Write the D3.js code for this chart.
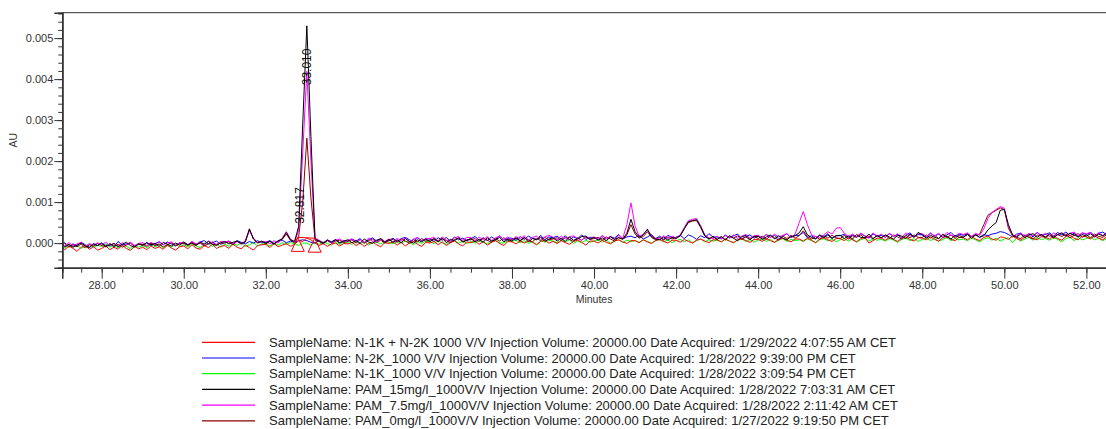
<!DOCTYPE html>
<html>
<head>
<meta charset="utf-8">
<script src="https://cdn.jsdelivr.net/npm/d3@7"></script>
<style>
  body { margin: 0; background: #fff; }
  svg { display: block; font-family: Arial, "Liberation Sans", sans-serif; }
</style>
</head>
<body>
<svg id="chart" width="1106" height="429"></svg>
<script>
// Chromatogram traces, sampled every 0.1 min starting at 27.0 min.
// Values are in units of 1e-5 AU.
const startMinute = 27.0;
const stepMinute = 0.1;

const traceRed = [
  -8,-16,-7,-13,-20,-10,-6,-15,-9,-17,
  -13,-7,-16,-10,-15,-5,-13,-18,-8,-14,
  -10,-16,-7,-13,-9,-15,-5,-12,-17,-9,
  -7,-14,-4,-12,-15,-6,-11,-3,-13,-8,
  -6,-13,-3,-10,-14,-5,-11,-17,-6,-4,
  -3,-11,-1,-9,-5,-1,-8,-3,6,4,
  12,8,0,-6,-1,-8,-2,0,-7,-1,
  -2,2,-6,0,-8,-1,3,-4,-9,1,
  -1,3,-5,2,-7,0,4,-3,-8,2,
  0,4,-4,3,-6,1,5,-2,-7,3,
  1,5,-3,4,-5,2,6,-1,-6,4,
  3,-2,5,0,6,2,-4,4,7,0,
  4,-1,6,1,-3,4,7,2,-5,5,
  5,0,7,2,-2,5,8,3,-1,6,
  6,1,8,3,-1,6,9,4,0,7,
  7,2,9,4,0,7,10,5,1,8,
  8,3,10,5,1,8,11,6,2,9,
  9,4,11,6,2,9,12,7,3,10,
  10,5,12,7,1,10,13,8,4,11,
  11,6,13,8,3,11,14,0,6,12,
  12,7,14,9,4,12,15,9,5,13,
  12,8,15,9,5,13,16,9,6,14,
  13,8,16,10,6,14,17,10,7,15,
  14,9,17,11,7,15,18,11,8,16,
  14,10,18,11,7,16,19,12,8,17,
  15,10,18,12,8,16
];

const traceBlue = [
  -3,1,-8,-2,-6,2,-4,-10,-1,-6,
  0,-7,-2,-9,4,-5,-2,1,-7,-1,
  -4,1,-6,-1,3,-4,3,-2,-6,0,
  0,-4,3,-3,3,6,-2,1,5,-3,
  1,5,-2,6,2,-2,4,0,6,1,
  2,6,-1,4,7,1,5,2,6,8,
  6,2,0,6,-1,8,3,9,1,6,
  4,10,5,11,1,8,13,5,10,3,
  7,12,4,11,14,8,4,13,6,10,
  10,4,13,7,14,5,15,8,12,6,
  11,16,7,13,6,15,9,18,7,12,
  12,7,16,9,17,12,9,19,8,15,
  13,17,9,18,8,15,11,20,9,14,
  14,9,18,11,16,12,21,10,15,17,
  13,19,10,15,21,11,17,9,19,14,
  14,19,11,20,16,9,18,13,23,15,
  15,10,20,13,18,22,10,16,20,12,
  17,12,21,14,19,10,17,23,13,19,
  19,26,13,18,11,20,15,23,12,18,
  18,22,13,20,15,23,17,12,22,18,
  19,14,23,16,21,12,19,25,15,21,
  20,15,24,17,22,13,20,26,16,22,
  19,23,16,21,14,21,18,22,24,28,
  26,21,15,22,24,17,23,15,26,19,
  21,25,17,26,20,27,18,24,16,25,
  21,26,18,24,27,20
];

const traceGreen = [
  -5,-12,-3,-10,-6,-13,-8,-3,-10,-5,
  -8,-2,-10,-5,-12,-3,-8,-14,-5,-10,
  -6,-11,-3,-9,-2,-12,-6,-10,-3,-9,
  -4,-9,-2,-7,-11,-4,-1,-8,-3,-10,
  -3,-8,-1,-6,0,-8,-4,1,-7,-2,
  -2,-7,0,-5,1,-4,2,-2,-6,0,
  0,-5,2,-3,3,-1,-5,2,-3,3,
  1,-3,3,-2,4,-5,1,3,-2,4,
  2,-2,4,0,5,1,-4,4,-1,5,
  3,-1,5,1,-3,3,6,0,5,-1,
  4,0,6,2,-2,4,7,1,0,6,
  4,7,1,6,-1,4,-4,6,2,7,
  5,1,7,3,8,-1,5,1,7,2,
  5,8,2,7,0,5,8,2,7,4,
  6,2,8,4,0,6,9,3,8,1,
  6,9,3,8,1,6,10,3,8,5,
  7,3,9,5,1,7,10,4,9,2,
  7,10,4,9,2,7,11,4,9,6,
  8,4,10,6,1,8,11,5,10,3,
  8,11,5,10,3,8,12,5,10,7,
  9,5,11,7,2,9,12,6,11,4,
  9,12,6,11,4,9,13,6,11,8,
  10,6,12,8,3,10,13,7,12,5,
  10,13,1,12,5,10,14,7,12,9,
  11,7,13,9,3,11,14,6,13,8,
  11,14,8,12,6,11
];

const traceBlack = [
  -1,-9,-3,-10,-5,0,-7,-11,-3,-6,
  0,-8,-5,-1,-9,-3,2,-6,-10,-2,
  -6,1,-4,-1,-8,2,-3,-7,0,-5,
  3,-4,0,-6,2,-2,4,-3,-5,1,
  4,-2,2,5,-1,3,35,10,1,5,
  0,5,-2,6,10,26,8,4,40,290,
  530,260,10,5,0,7,2,8,0,5,
  8,1,6,0,10,3,-1,7,11,2,
  9,2,8,1,11,4,0,8,3,10,
  3,11,4,12,1,9,6,13,2,7,
  11,3,10,2,13,5,8,14,3,9,
  5,13,6,14,3,11,8,15,4,10,
  13,5,12,4,15,7,10,16,17,9,
  14,7,13,6,15,9,13,10,24,58,
  28,14,20,34,16,10,8,15,7,14,
  11,18,35,52,55,57,40,18,10,16,
  9,16,8,18,12,6,15,19,9,16,
  17,9,15,20,10,18,12,8,16,18,
  25,40,20,14,10,19,13,20,11,18,
  19,11,18,10,21,14,13,22,11,18,
  13,20,15,10,19,17,11,22,14,26,
  20,12,19,14,11,21,16,10,19,14,
  15,21,12,20,14,18,32,42,50,80,
  82,45,20,15,22,13,20,23,14,21,
  15,22,14,21,24,17,24,20,15,21,
  17,23,15,22,18,24
];

const traceMagenta = [
  0,-7,1,-6,-2,2,-8,-1,-5,1,
  -4,2,-6,-1,-7,1,-4,2,-6,-1,
  1,-6,2,-4,4,-3,0,3,-5,1,
  2,-4,4,-2,3,-5,5,0,-3,4,
  3,5,-1,4,-3,6,30,12,2,4,
  4,-2,6,0,12,28,10,3,30,220,
  419,200,12,7,1,8,0,7,10,3,
  7,10,2,9,1,12,5,3,11,4,
  10,2,12,5,13,3,10,14,4,12,
  11,14,5,15,8,4,13,16,7,14,
  13,5,15,8,16,6,13,17,9,15,
  7,16,10,18,8,14,17,9,15,19,
  14,8,17,10,15,18,11,7,17,11,
  15,9,18,11,16,9,19,12,45,98,
  42,16,22,32,18,12,10,18,11,17,
  12,20,38,55,58,60,42,20,13,11,
  17,10,19,12,20,11,17,21,12,18,
  19,12,21,14,22,15,19,23,13,22,
  50,77,45,20,16,14,20,28,22,36,
  38,24,16,22,15,24,18,13,25,16,
  22,15,24,16,23,14,25,18,15,24,
  23,16,25,17,24,15,26,19,16,24,
  21,25,16,24,19,35,60,75,82,89,
  85,40,20,17,25,16,24,18,26,17,
  24,16,25,19,26,17,24,27,18,25,
  23,26,17,25,18,27
];

const traceDarkRed = [
  -8,-1,-10,-4,-9,-2,-12,-4,-7,-1,
  -6,-9,-1,-8,-3,-10,-5,0,-8,-3,
  -3,-8,0,-6,-2,-9,-4,1,-7,-2,
  -1,-6,2,-4,0,-7,-2,3,-5,0,
  0,3,-4,4,-1,3,32,10,0,4,
  -2,4,-3,5,9,22,7,2,15,100,
  256,110,8,4,-2,6,0,5,7,1,
  5,8,0,9,-1,6,10,2,7,0,
  6,9,2,10,5,0,9,3,11,5,
  7,10,3,11,6,1,9,12,4,8,
  8,11,4,12,7,2,11,5,13,7,
  9,12,5,13,8,3,12,6,14,8,
  10,13,6,14,9,4,13,7,15,9,
  11,14,7,15,10,5,14,9,20,45,
  22,12,16,28,14,8,14,7,15,10,
  14,17,36,50,54,55,38,17,10,16,
  9,15,8,17,12,18,9,15,8,17,
  11,17,9,18,13,7,17,11,19,12,
  18,30,16,10,16,9,18,12,19,13,
  11,19,10,18,14,20,11,17,10,19,
  13,19,11,20,15,10,19,13,20,14,
  14,20,12,19,11,21,14,20,12,19,
  14,21,16,19,22,45,68,74,80,86,
  82,36,18,14,11,20,14,10,19,20,
  13,20,12,21,16,22,13,19,23,14,
  20,13,22,16,14,21
];

const legendLabels = [
  "SampleName: N-1K + N-2K 1000 V/V Injection Volume: 20000.00 Date Acquired: 1/29/2022 4:07:55 AM CET",
  "SampleName: N-2K_1000 V/V Injection Volume: 20000.00 Date Acquired: 1/28/2022 9:39:00 PM CET",
  "SampleName: N-1K_1000 V/V Injection Volume: 20000.00 Date Acquired: 1/28/2022 3:09:54 PM CET",
  "SampleName: PAM_15mg/l_1000V/V Injection Volume: 20000.00 Date Acquired: 1/28/2022 7:03:31 AM CET",
  "SampleName: PAM_7.5mg/l_1000V/V Injection Volume: 20000.00 Date Acquired: 1/28/2022 2:11:42 AM CET",
  "SampleName: PAM_0mg/l_1000V/V Injection Volume: 20000.00 Date Acquired: 1/27/2022 9:19:50 PM CET"
];
const legendColors = ["#ff0000", "#0000ff", "#00ff00", "#000000", "#ff00ff", "#8b0000"];
const legendTraces = [traceRed, traceBlue, traceGreen, traceBlack, traceMagenta, traceDarkRed];

// Draw order of the traces (index into the lists above), last one on top.
const drawOrder = [2, 1, 0, 5, 4, 3];

// Integrated peaks: retention times and where their labels start (AU).
const peakTimes = [32.817, 33.010];
const peakLabelAU = [0.00047, 0.00385];
// Integration start/end events and their baseline level (AU).
const eventTimes = [32.78, 33.19];
const eventAU = [0.00014, 0.00012];

const xMajorTicks = d3.range(28, 52.01, 2);
const xMinorTicks = d3.range(27.5, 52.51, 0.5);
const yMajorTicks = [0, 0.001, 0.002, 0.003, 0.004, 0.005];
const yMinorTicks = d3.range(-0.0006, 0.00561, 0.0002);

const svg = d3.select("#chart");
const plotLeft = 62.3, plotRight = 1106.9, plotTop = 12.7, plotBottom = 267.7;

const x = d3.scaleLinear().domain([27.04, 52.5]).range([plotLeft, plotRight]);
const y = d3.scaleLinear().domain([-0.0006, 0.00562]).range([plotBottom, plotTop]);

svg.append("defs").append("clipPath").attr("id", "plot-clip")
  .append("rect").attr("x", plotLeft).attr("y", plotTop)
  .attr("width", plotRight - plotLeft).attr("height", plotBottom - plotTop);

// Frame
svg.append("line").attr("x1", plotLeft).attr("x2", 1106).attr("y1", plotTop).attr("y2", plotTop)
  .attr("stroke", "#333").attr("stroke-width", 1);

// Traces
const line = d3.line()
  .x((v, i) => x(startMinute + i * stepMinute))
  .y(v => y(v * 1e-5));

const traces = svg.append("g").attr("clip-path", "url(#plot-clip)");
drawOrder.forEach(k => {
  traces.append("path")
    .attr("d", line(legendTraces[k]))
    .attr("fill", "none")
    .attr("stroke", legendColors[k])
    .attr("stroke-width", 1)
    .attr("stroke-linejoin", "round");
});

// Integration baseline and event markers
const events = svg.append("g").attr("clip-path", "url(#plot-clip)");
events.append("line")
  .attr("x1", x(eventTimes[0])).attr("y1", y(eventAU[0]))
  .attr("x2", x(eventTimes[1])).attr("y2", y(eventAU[1]))
  .attr("stroke", "#ff0000").attr("stroke-width", 1);
eventTimes.forEach((t, i) => {
  const px = x(t), py = y(eventAU[i]);
  events.append("path")
    .attr("d", `M${px},${py}L${px + 6.5},${py + 14}L${px - 6.5},${py + 14}Z`)
    .attr("fill", "none").attr("stroke", "#ff0000").attr("stroke-width", 1);
});

// Peak labels
peakTimes.forEach((t, i) => {
  svg.append("text")
    .attr("transform", `translate(${x(t)},${y(peakLabelAU[i])}) rotate(-90)`)
    .attr("dy", "0.35em")
    .attr("font-size", 12)
    .attr("fill", "#111")
    .text(t.toFixed(3));
});

// Axes
const yAxisMajor = d3.axisLeft(y).tickValues(yMajorTicks).tickSize(8).tickFormat(d3.format(".3f"));
const yAxisMinor = d3.axisLeft(y).tickValues(yMinorTicks).tickSize(4).tickFormat("");
const xAxisMajor = d3.axisBottom(x).tickValues(xMajorTicks).tickSize(11).tickFormat(d3.format(".2f"));
const xAxisMinor = d3.axisBottom(x).tickValues(xMinorTicks).tickSize(5).tickFormat("");

function styleAxis(g) {
  g.selectAll(".domain").attr("stroke", "#333").attr("stroke-width", 1.5);
  g.selectAll(".tick line").attr("stroke", "#333");
  g.selectAll(".tick text").attr("fill", "#333").attr("font-size", 11)
    .attr("font-family", "Arial, 'Liberation Sans', sans-serif");
}

svg.append("g").attr("transform", `translate(${plotLeft},0)`).call(yAxisMinor).call(styleAxis);
svg.append("g").attr("transform", `translate(${plotLeft},0)`).call(yAxisMajor).call(styleAxis)
  .selectAll(".tick text").attr("x", -9);
svg.append("g").attr("transform", `translate(0,${plotBottom})`).call(xAxisMinor).call(styleAxis);
svg.append("g").attr("transform", `translate(0,${plotBottom})`).call(xAxisMajor).call(styleAxis)
  .selectAll(".tick text").attr("y", 14);

svg.append("text")
  .attr("transform", `translate(17,${(plotTop + plotBottom) / 2}) rotate(-90)`)
  .attr("text-anchor", "middle").attr("font-size", 10.5).attr("fill", "#333")
  .text("AU");

svg.append("text")
  .attr("x", x(40)).attr("y", 303)
  .attr("text-anchor", "middle").attr("font-size", 10.5).attr("fill", "#333")
  .text("Minutes");

// Legend
const legend = svg.append("g");
legendLabels.forEach((label, i) => {
  const ly = 342.3 + i * 15.7;
  legend.append("line")
    .attr("x1", 202).attr("x2", 255).attr("y1", ly).attr("y2", ly)
    .attr("stroke", legendColors[i]).attr("stroke-width", 1.2);
  legend.append("text")
    .attr("x", 269).attr("y", ly).attr("dy", "0.35em")
    .attr("font-size", 13).attr("fill", "#222")
    .text(label);
});
</script>
</body>
</html>
